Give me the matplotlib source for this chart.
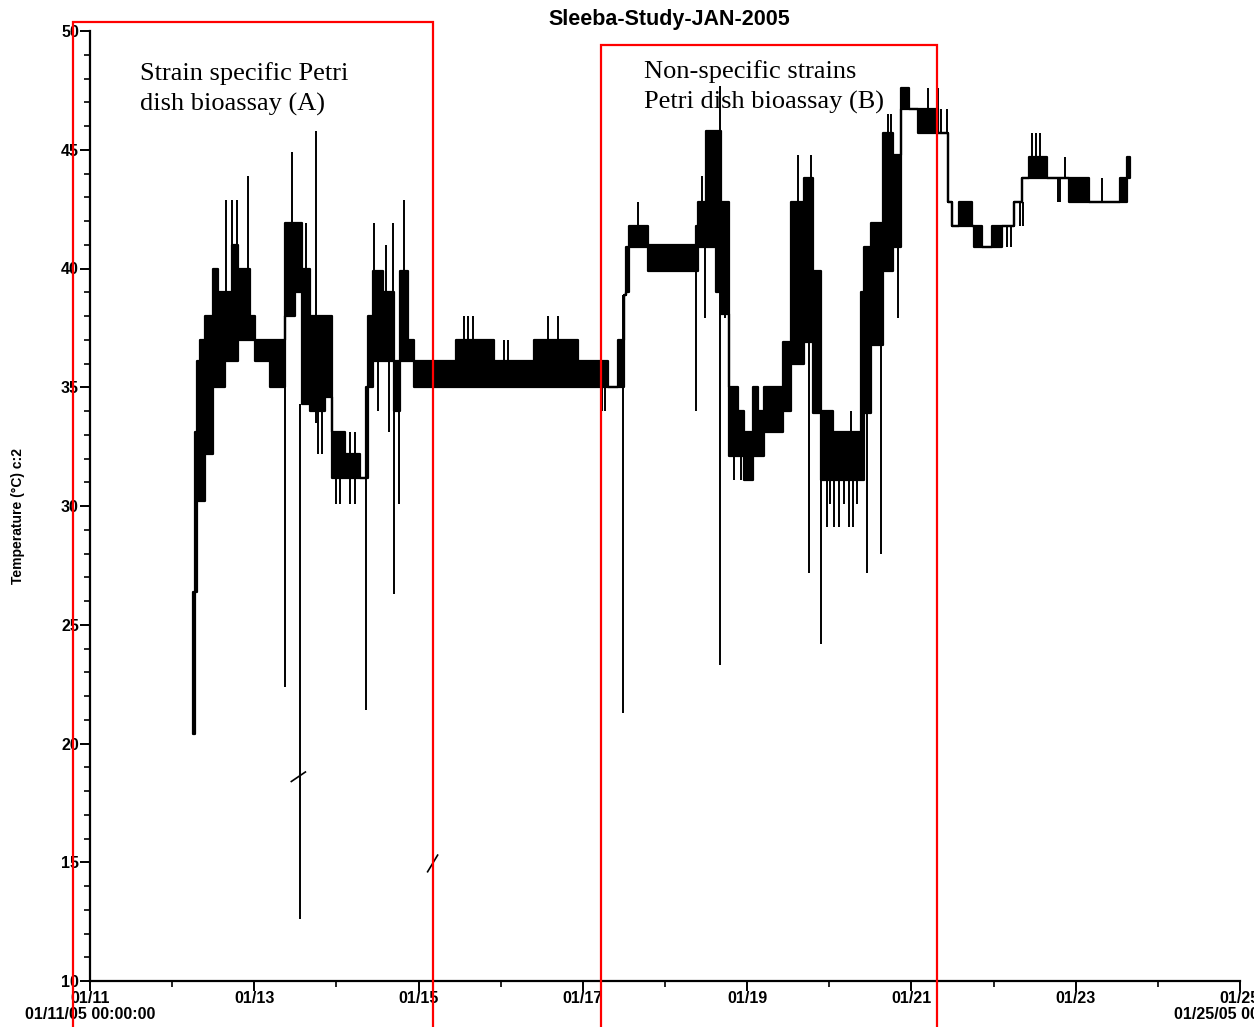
import matplotlib
matplotlib.use("Agg")
import matplotlib.pyplot as plt
import numpy as np
from matplotlib.patches import Rectangle
from matplotlib.ticker import FixedLocator, MultipleLocator

# Logger record, days since 01/11/05 00:00.  Each segment runs from its start
# to the next start; within it the reading toggled between seg_lo and seg_hi (°C).
seg_start = [1.256, 1.280, 1.305, 1.341, 1.402, 1.500, 1.561, 1.646, 1.732, 1.805,
             1.866, 1.951, 2.012, 2.195, 2.378, 2.500, 2.585, 2.683, 2.866, 2.951,
             3.110, 3.293, 3.354, 3.390, 3.451, 3.573, 3.695, 3.780, 3.866, 3.939,
             4.451, 4.915, 5.402, 5.939, 6.305, 6.427, 6.500, 6.524, 6.561, 6.793,
             7.378, 7.402, 7.500, 7.622, 7.683, 7.780, 7.890, 7.963, 8.073, 8.134,
             8.207, 8.439, 8.537, 8.695, 8.805, 8.902, 9.049, 9.390, 9.427, 9.512,
             9.659, 9.780, 9.878, 9.976, 10.085, 10.329, 10.451, 10.488, 10.585, 10.732,
             10.756, 10.854, 10.976, 11.098, 11.244, 11.341, 11.427, 11.646, 11.915, 12.159,
             12.537, 12.622]
seg_end = 12.659
seg_lo = [20.4, 26.4, 30.2, 30.2, 32.2, 35.0, 35.0, 36.1, 36.1, 37.0,
          37.0, 37.0, 36.1, 35.0, 38.0, 39.0, 34.3, 34.0, 34.6, 31.2,
          31.2, 31.2, 31.2, 35.0, 36.1, 36.1, 34.0, 36.1, 36.1, 35.0,
          35.0, 35.0, 35.0, 35.0, 35.0, 35.0, 38.9, 39.0, 40.9, 39.9,
          39.9, 40.9, 40.9, 39.0, 38.1, 32.1, 32.1, 31.1, 32.1, 32.1,
          33.1, 34.0, 36.0, 36.9, 33.9, 31.1, 31.1, 31.1, 33.9, 36.8,
          39.9, 40.9, 46.7, 46.7, 45.7, 45.7, 42.8, 41.8, 41.8, 41.8,
          40.9, 40.9, 40.9, 41.8, 42.8, 43.8, 43.8, 43.8, 42.8, 42.8,
          42.8, 43.8]
seg_hi = [26.4, 33.1, 36.1, 37.0, 38.0, 40.0, 39.0, 39.0, 41.0, 40.0,
          40.0, 38.0, 37.0, 37.0, 41.9, 41.9, 40.0, 38.0, 38.0, 33.1,
          32.2, 31.2, 35.0, 38.0, 39.9, 39.0, 36.1, 39.9, 37.0, 36.1,
          37.0, 36.1, 37.0, 36.1, 35.0, 37.0, 38.9, 40.9, 41.8, 41.0,
          41.8, 42.8, 45.8, 45.8, 42.8, 35.0, 34.0, 33.1, 35.0, 34.0,
          35.0, 36.9, 42.8, 43.8, 39.9, 34.0, 33.1, 39.0, 40.9, 41.9,
          45.7, 44.8, 47.6, 46.7, 46.7, 45.7, 42.8, 41.8, 42.8, 41.8,
          41.8, 40.9, 41.8, 41.8, 42.8, 43.8, 44.7, 43.8, 43.8, 42.8,
          43.8, 44.7]

# Brief excursions away from the running level
spike_day = [1.280, 1.659, 1.732, 1.793, 1.927, 2.378, 2.463, 2.561, 2.634, 2.756,
             2.780, 2.829, 3.000, 3.049, 3.085, 3.171, 3.220, 3.366, 3.463, 3.512,
             3.598, 3.646, 3.683, 3.695, 3.756, 3.817, 4.549, 4.598, 4.659, 5.037,
             5.085, 5.573, 5.695, 5.805, 5.866, 6.232, 6.268, 6.488, 6.671, 7.378,
             7.451, 7.488, 7.671, 7.732, 7.841, 7.927, 8.622, 8.756, 8.780, 8.902,
             8.976, 9.012, 9.061, 9.122, 9.183, 9.244, 9.293, 9.341, 9.268, 9.463,
             9.634, 9.720, 9.756, 9.841, 10.207, 10.329, 10.366, 10.427, 11.207, 11.159,
             11.317, 11.354, 11.463, 11.512, 11.561, 11.780, 11.805, 11.866, 12.317]
spike_lo = [20.4, 37.0, 37.0, 37.0, 37.0, 22.4, 41.9, 12.6, 40.0, 33.5,
            32.2, 32.2, 30.1, 30.1, 31.2, 30.1, 30.1, 21.4, 39.9, 34.0,
            39.0, 33.1, 36.1, 26.3, 30.1, 39.9, 37.0, 37.0, 37.0, 36.1,
            36.1, 37.0, 37.0, 36.1, 36.1, 34.0, 34.0, 21.3, 41.8, 34.0,
            42.8, 37.9, 23.3, 37.9, 31.1, 31.1, 42.8, 27.2, 43.8, 24.2,
            29.1, 30.1, 29.1, 29.1, 30.1, 29.1, 29.1, 30.1, 33.1, 27.2,
            28.0, 45.7, 45.7, 37.9, 46.7, 46.7, 45.7, 45.7, 40.9, 40.9,
            41.8, 41.8, 44.7, 44.7, 44.7, 42.8, 42.8, 43.8, 42.8]
spike_hi = [22.3, 42.9, 42.9, 42.9, 43.9, 35.0, 44.9, 34.3, 41.9, 45.8,
            34.0, 34.0, 31.2, 31.2, 33.1, 33.1, 33.1, 31.2, 41.9, 36.1,
            41.0, 36.1, 41.9, 34.0, 34.0, 42.9, 38.0, 38.0, 38.0, 37.0,
            37.0, 38.0, 38.0, 37.0, 37.0, 35.0, 35.0, 38.9, 42.8, 39.9,
            43.9, 40.9, 47.7, 38.1, 32.1, 32.1, 44.8, 36.9, 44.8, 33.9,
            31.1, 31.1, 31.1, 31.1, 31.1, 31.1, 31.1, 31.1, 34.0, 33.9,
            36.8, 46.5, 46.5, 40.9, 47.6, 47.6, 46.7, 46.7, 41.8, 41.8,
            42.8, 42.8, 45.7, 45.7, 45.7, 43.8, 43.8, 44.7, 43.8]

# Pen break marks left on the chart paper
break_day = [[2.451, 2.622], [4.110, 4.232]]
break_temp = [[18.4, 18.8], [14.6, 15.3]]

day_ticks = [0, 2, 4, 6, 8, 10, 12, 14]
day_labels = ["01/11\n01/11/05 00:00:00", "01/13", "01/15", "01/17", "01/19",
              "01/21", "01/23", "01/25\n01/25/05 00:00:00"]
temp_ticks = [10, 15, 20, 25, 30, 35, 40, 45, 50]

W, H = 1254, 1027
fig = plt.figure(figsize=(W / 100, H / 100), dpi=100)
fig.patch.set_facecolor("white")
ax = fig.add_axes([90 / W, 1 - 981 / H, (1240 - 90) / W, (981 - 31) / H])

edges = np.array(seg_start + [seg_end])
lo = np.array(seg_lo + [seg_lo[-1]])
hi = np.array(seg_hi + [seg_hi[-1]])
ax.fill_between(edges, lo, hi, step="post", facecolor="black",
                edgecolor="black", linewidth=1.6, zorder=3)
ax.vlines(spike_day, spike_lo, spike_hi, color="black", linewidth=1.4, zorder=3)
for bd, bt in zip(break_day, break_temp):
    ax.plot(bd, bt, color="black", linewidth=1.2, zorder=3)

ax.set_xlim(0, 14)
ax.set_ylim(10, 50)
for side in ("top", "right"):
    ax.spines[side].set_visible(False)
for side in ("left", "bottom"):
    ax.spines[side].set_linewidth(1.6)

ax.xaxis.set_major_locator(FixedLocator(day_ticks))
ax.xaxis.set_minor_locator(MultipleLocator(1))
ax.yaxis.set_major_locator(FixedLocator(temp_ticks))
ax.yaxis.set_minor_locator(MultipleLocator(1))
ax.set_xticklabels(day_labels, fontsize=11.5, fontweight="bold",
                   family="Liberation Sans", linespacing=1.1)
ax.set_yticklabels([str(t) for t in temp_ticks], fontsize=11.5,
                   fontweight="bold", family="Liberation Sans")
ax.tick_params(axis="both", which="major", direction="out", length=7, width=1.4, pad=1)
ax.tick_params(axis="both", which="minor", direction="out", length=4, width=1.2)
ax.tick_params(axis="x", which="major", pad=0)

fig.text(669 / W, 1 - 20 / H, "Sleeba-Study-JAN-2005", ha="center", va="center",
         fontsize=15.5, fontweight="bold", family="Liberation Sans")
fig.text(18 / W, 1 - 516 / H, "Temperature (°C) c:2", ha="center", va="center",
         rotation=90, fontsize=10, fontweight="bold", family="Liberation Sans")

fig.text(140 / W, 1 - 62 / H, "Strain specific Petri\ndish bioassay (A)",
         ha="left", va="top", fontsize=19, family="Liberation Serif", linespacing=1.45)
fig.text(644 / W, 1 - 60 / H, "Non-specific strains\nPetri dish bioassay (B)",
         ha="left", va="top", fontsize=19, family="Liberation Serif", linespacing=1.45)

for x0, x1, y0 in [(73, 433, 22), (601, 937, 45)]:
    fig.add_artist(Rectangle((x0 / W, -0.05), (x1 - x0) / W, (1 - y0 / H) + 0.05,
                             transform=fig.transFigure, fill=False,
                             edgecolor="#ff0000", linewidth=1.6, zorder=10,
                             clip_on=False))

fig.savefig("out.png", dpi=100, facecolor="white")
